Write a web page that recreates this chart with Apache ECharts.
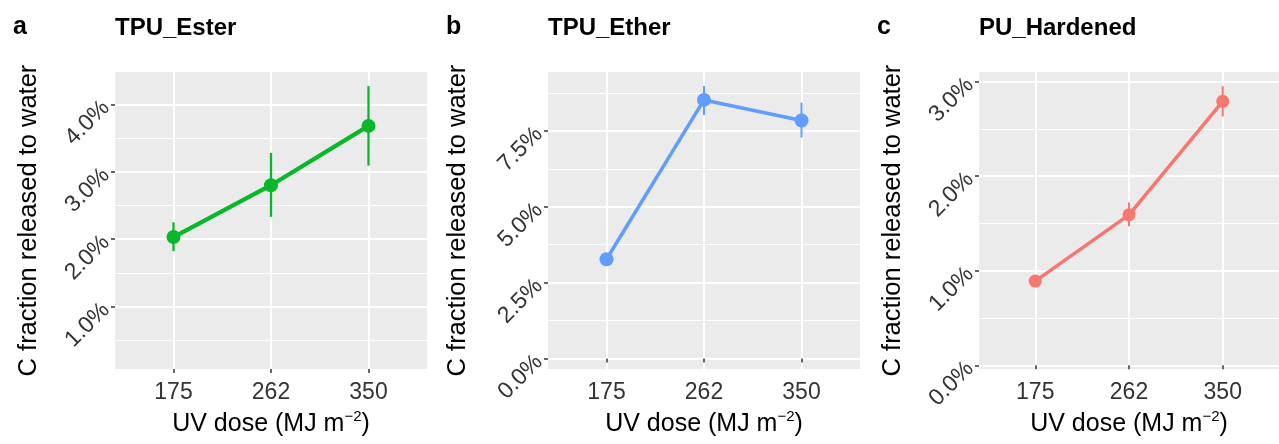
<!DOCTYPE html>
<html>
<head>
<meta charset="utf-8">
<script src="https://cdn.jsdelivr.net/npm/echarts@6/dist/echarts.min.js"></script>
<style>html,body{margin:0;padding:0;background:#fff;}#c{width:1279px;height:444px;}</style>
</head>
<body>
<div id="c"></div>
<script>
// ---- data ----
const categories = ['175', '262', '350'];
const panelLetters = ['a', 'b', 'c'];
const panelTitles = ['TPU_Ester', 'TPU_Ether', 'PU_Hardened'];

const esterMean = [2.03, 2.80, 3.68];
const esterLow  = [1.82, 2.33, 3.09];
const esterHigh = [2.25, 3.28, 4.27];

const etherMean = [3.27, 8.52, 7.84];
const etherLow  = [3.17, 8.02, 7.28];
const etherHigh = [3.37, 8.98, 8.43];

const hardMean = [0.89, 1.59, 2.79];
const hardLow  = [0.85, 1.47, 2.63];
const hardHigh = [0.93, 1.72, 2.95];

const esterTicks = [1, 2, 3, 4];
const esterMinor = [0.5, 1.5, 2.5, 3.5];
const etherTicks = [0, 2.5, 5, 7.5];
const etherMinor = [1.25, 3.75, 6.25, 8.75];
const hardTicks = [0, 1, 2, 3];
const hardMinor = [0.5, 1.5, 2.5];

const esterRange = [0.07, 4.48];
const etherRange = [-0.35, 9.44];
const hardRange = [-0.04, 3.10];

const colors = ['#08B82A', '#619CFF', '#F8766D'];

// ---- build ----
const FONT = '"Liberation Sans", Arial, Helvetica, sans-serif';
const panels = [
  {mean: esterMean, low: esterLow, high: esterHigh, ticks: esterTicks, minor: esterMinor, range: esterRange, left: 115, gap: 73, lw: 4.2, ew: 2.3, ss: 14},
  {mean: etherMean, low: etherLow, high: etherHigh, ticks: etherTicks, minor: etherMinor, range: etherRange, left: 548, gap: 77, lw: 3.5, ew: 2, ss: 14},
  {mean: hardMean, low: hardLow, high: hardHigh, ticks: hardTicks, minor: hardMinor, range: hardRange, left: 979, gap: 73, lw: 3.5, ew: 2, ss: 13}
];
const catIdx = categories.map((c, i) => i + 1);

const grids = [], xAxes = [], yAxes = [], series = [], titles = [];
panels.forEach((p, i) => {
  grids.push({left: p.left, top: 72, width: 312, height: 299, show: true, backgroundColor: '#EBEBEB', borderWidth: 0, containLabel: false});
  titles.push({text: panelLetters[i], left: p.left - 107, top: 10, textStyle: {fontFamily: FONT, fontSize: 25, fontWeight: 'bold', color: '#000'}});
  titles.push({text: panelTitles[i], left: p.left - 5, top: 11, textStyle: {fontFamily: FONT, fontSize: 24, fontWeight: 'bold', color: '#000'}});
  xAxes.push({
    type: 'value', gridIndex: i, min: 0.4, max: 3.6,
    axisLine: {show: false},
    axisTick: {show: true, customValues: catIdx, length: 4, lineStyle: {color: '#333', width: 1.5}},
    axisLabel: {customValues: catIdx, formatter: v => categories[Math.round(v) - 1], margin: 12, fontFamily: FONT, fontSize: 23, color: '#333'},
    splitLine: {show: true, lineStyle: {color: '#fff', width: 2}},
    name: 'UV dose (MJ m{sup|\u22122})', nameLocation: 'middle', nameGap: 39,
    nameTextStyle: {fontFamily: FONT, fontSize: 25, color: '#000', lineHeight: 30,
      rich: {sup: {fontFamily: FONT, fontSize: 15, color: '#000', verticalAlign: 'top', lineHeight: 16}}}
  });
  yAxes.push({
    type: 'value', gridIndex: i, min: p.range[0], max: p.range[1],
    axisLine: {show: false},
    axisTick: {show: true, customValues: p.ticks, length: 4, lineStyle: {color: '#333', width: 1.5}},
    axisLabel: {customValues: p.ticks, formatter: v => v.toFixed(1) + '%', rotate: 45, margin: 9, fontFamily: FONT, fontSize: 23, color: '#333'},
    splitLine: {show: true, lineStyle: {color: '#fff', width: 2}},
    name: 'C fraction released to water', nameLocation: 'middle', nameGap: p.gap, nameRotate: 90,
    nameTextStyle: {fontFamily: FONT, fontSize: 25.5, color: '#000'}
  });
  yAxes.push({
    type: 'value', gridIndex: i, min: p.range[0], max: p.range[1], position: 'left',
    axisLine: {show: false},
    axisTick: {show: false, customValues: p.minor},
    axisLabel: {show: false, customValues: p.minor},
    splitLine: {show: true, lineStyle: {color: '#fff', width: 1}}
  });
  const errData = catIdx.map((x, k) => [x, p.low[k], p.high[k]]);
  series.push({
    type: 'custom', xAxisIndex: i, yAxisIndex: 2 * i, z: 3,
    encode: {x: 0, y: [1, 2]},
    data: errData,
    renderItem: (params, api) => {
      const a = api.coord([api.value(0), api.value(1)]);
      const b = api.coord([api.value(0), api.value(2)]);
      return {type: 'line', shape: {x1: a[0], y1: a[1], x2: b[0], y2: b[1]}, style: {stroke: colors[i], lineWidth: p.ew}};
    }
  });
  series.push({
    type: 'line', xAxisIndex: i, yAxisIndex: 2 * i, z: 4,
    data: catIdx.map((x, k) => [x, p.mean[k]]),
    symbol: 'circle', symbolSize: p.ss, showSymbol: true,
    lineStyle: {color: colors[i], width: p.lw},
    itemStyle: {color: colors[i]},
    emphasis: {disabled: true}
  });
});

const chart = echarts.init(document.getElementById('c'));
chart.setOption({
  animation: false,
  backgroundColor: '#fff',
  title: titles,
  grid: grids,
  xAxis: xAxes,
  yAxis: yAxes,
  series: series,
  tooltip: {show: false}
});
</script>
</body>
</html>
